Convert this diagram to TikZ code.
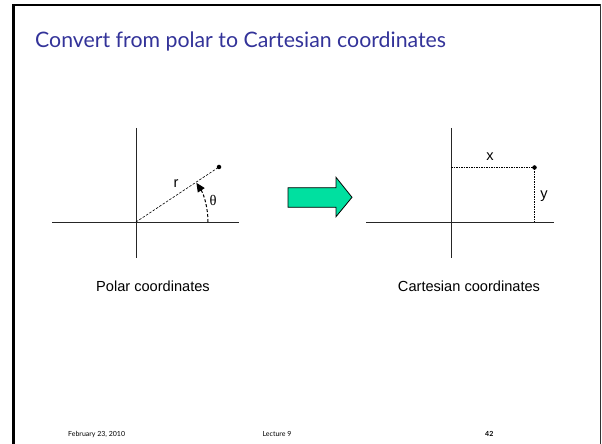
\documentclass[tikz,border=0pt]{standalone}
\usepackage{fontspec}
\setmainfont{Liberation Sans}
\newfontfamily\titlefont{Lato}
\newfontfamily\symfont{Liberation Serif}
\usetikzlibrary{arrows.meta}
\definecolor{titleblue}{RGB}{51,51,153}
\definecolor{arrowgreen}{RGB}{0,224,160}
\begin{document}
\begin{tikzpicture}[x=1pt,y=1pt,
  axis/.style={line width=0.9pt,black!85},
  lbl/.style={inner sep=0pt,font=\fontsize{14.6}{16}\selectfont},
  foot/.style={inner sep=0pt,font=\titlefont\fontsize{7}{8}\selectfont},
  dotpt/.style={circle,fill=black,inner sep=0pt,minimum size=4.5pt}]
\useasboundingbox (0,0) rectangle (602,444);
% frame
\draw[line width=3pt] (13,0) -- (13,439);
\draw[line width=2pt] (12,439) -- (601,439);
\draw[line width=1pt,black!80] (600.5,440) -- (600.5,0);
% title
\node[anchor=base west,inner sep=0pt,text=titleblue,font=\titlefont\fontsize{21.3}{26}\selectfont] (title) at (35,396) {Convert from polar to Cartesian coordinates};
% polar
\coordinate (po) at (136,222);
\coordinate (pl) at (52,222);
\coordinate (pr) at (239,222);
\coordinate (pt) at (136,316);
\coordinate (pb) at (136,186);
\draw[axis] (pl) -- (pr);
\draw[axis] (pt) -- (pb);
\node[dotpt] (pp) at (219,277) {};
\draw[dashed,dash pattern=on 2.5pt off 1.5pt,line width=0.6pt] (po) -- (pp.center);
\draw[dashed,dash pattern=on 3pt off 2pt,line width=1pt,-{Triangle[length=9pt,width=8pt]}] (208,222) arc[start angle=0,end angle=33,radius=72pt];
\node[lbl] (rl) at (176,260) {r};
\node[lbl,font=\symfont\fontsize{14.6}{16}\selectfont] (th) at (213,244) {θ};
\node[lbl] (pcap) at (153,158) {Polar coordinates};
% arrow
\draw[fill=arrowgreen,line width=0.8pt,line join=miter] (288,236.7) -- (336,236.7) -- (336,227.3) -- (352,246.7) -- (336,266.7) -- (336,256.3) -- (288,256.3) -- cycle;
% cartesian
\coordinate (co) at (451,222);
\coordinate (cl) at (366,222);
\coordinate (cr) at (554,222);
\coordinate (ct) at (451,316);
\coordinate (cb) at (451,186);
\draw[axis] (cl) -- (cr);
\draw[axis] (ct) -- (cb);
\node[dotpt] (cp) at (534.5,276.5) {};
\coordinate (cy) at (451,276.5);
\coordinate (cx) at (534.5,222);
\draw[dash pattern=on 1.5pt off 1pt,line width=0.8pt] (cy) -- (cp.center) -- (cx);
\node[lbl] (xl) at (490,287) {x};
\node[lbl] (yl) at (544,248) {y};
\node[lbl] (ccap) at (469,158) {Cartesian coordinates};
% footer
\node[foot,anchor=base west] (date) at (68,7) {February 23, 2010};
\node[foot,anchor=base] (lec) at (277,7) {Lecture 9};
\node[foot,anchor=base west,font=\titlefont\bfseries\fontsize{7}{8}\selectfont] (num) at (485,7) {42};
\end{tikzpicture}
\end{document}
